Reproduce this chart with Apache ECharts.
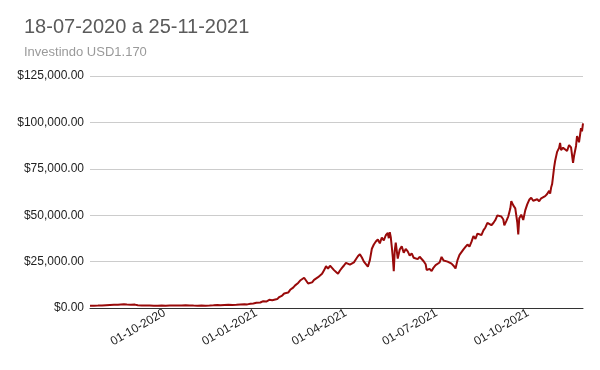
<!DOCTYPE html>
<html>
<head>
<meta charset="utf-8">
<script src="https://cdn.jsdelivr.net/npm/echarts@6/dist/echarts.min.js"></script>
<style>
  html, body { margin: 0; padding: 0; background: #fff; }
  #chart { width: 600px; height: 370px; }
</style>
</head>
<body>
<div id="chart"></div>
<script>
// ---- Data ----
const titleText = '18-07-2020 a 25-11-2021';
const subtitleText = 'Investindo USD1.170';

const dates = [
'2020-07-18','2020-07-22','2020-07-26','2020-07-30','2020-08-03','2020-08-07','2020-08-11','2020-08-15','2020-08-18','2020-08-21',
'2020-08-24','2020-08-28','2020-09-01','2020-09-04','2020-09-08','2020-09-12','2020-09-16','2020-09-20','2020-09-24','2020-09-28',
'2020-10-02','2020-10-06','2020-10-10','2020-10-14','2020-10-18','2020-10-22','2020-10-26','2020-10-30','2020-11-03','2020-11-07',
'2020-11-11','2020-11-15','2020-11-19','2020-11-23','2020-11-26','2020-11-30','2020-12-04','2020-12-08','2020-12-12','2020-12-16',
'2020-12-20','2020-12-23','2020-12-26','2020-12-29','2021-01-01','2021-01-03','2021-01-05','2021-01-08','2021-01-11','2021-01-14',
'2021-01-17','2021-01-19','2021-01-22','2021-01-24','2021-01-27','2021-01-29','2021-01-31','2021-02-02','2021-02-04','2021-02-07',
'2021-02-09','2021-02-12','2021-02-14','2021-02-16','2021-02-18','2021-02-20','2021-02-22','2021-02-24','2021-02-26','2021-02-28',
'2021-03-02','2021-03-04','2021-03-06','2021-03-08','2021-03-10','2021-03-12','2021-03-14','2021-03-16','2021-03-18','2021-03-20',
'2021-03-22','2021-03-24','2021-03-26','2021-03-28','2021-03-30','2021-04-01','2021-04-03','2021-04-05','2021-04-07','2021-04-09',
'2021-04-11','2021-04-13','2021-04-15','2021-04-17','2021-04-19','2021-04-21','2021-04-23','2021-04-25','2021-04-27','2021-04-29',
'2021-05-01','2021-05-03','2021-05-05','2021-05-07','2021-05-09','2021-05-11','2021-05-13','2021-05-14','2021-05-15','2021-05-16',
'2021-05-17','2021-05-18','2021-05-19','2021-05-20','2021-05-21','2021-05-23','2021-05-25','2021-05-27','2021-05-29','2021-05-31',
'2021-06-02','2021-06-04','2021-06-06','2021-06-08','2021-06-10','2021-06-12','2021-06-14','2021-06-16','2021-06-18','2021-06-20',
'2021-06-21','2021-06-22','2021-06-24','2021-06-26','2021-06-28','2021-06-30','2021-07-02','2021-07-04','2021-07-06','2021-07-08',
'2021-07-10','2021-07-12','2021-07-14','2021-07-16','2021-07-18','2021-07-20','2021-07-22','2021-07-24','2021-07-26','2021-07-28',
'2021-07-30','2021-08-01','2021-08-03','2021-08-05','2021-08-07','2021-08-09','2021-08-11','2021-08-13','2021-08-15','2021-08-17',
'2021-08-19','2021-08-21','2021-08-23','2021-08-25','2021-08-27','2021-08-29','2021-08-31','2021-09-02','2021-09-04','2021-09-06',
'2021-09-07','2021-09-09','2021-09-11','2021-09-13','2021-09-14','2021-09-16','2021-09-18','2021-09-20','2021-09-21','2021-09-22',
'2021-09-24','2021-09-26','2021-09-28','2021-09-30','2021-10-02','2021-10-04','2021-10-06','2021-10-08','2021-10-10','2021-10-12',
'2021-10-14','2021-10-16','2021-10-18','2021-10-20','2021-10-22','2021-10-23','2021-10-24','2021-10-25','2021-10-26','2021-10-27',
'2021-10-28','2021-10-30','2021-11-01','2021-11-02','2021-11-03','2021-11-05','2021-11-07','2021-11-09','2021-11-11','2021-11-13',
'2021-11-15','2021-11-16','2021-11-18','2021-11-19','2021-11-20','2021-11-21','2021-11-23','2021-11-24','2021-11-25'
];

const values = [
1170,1230,1290,1380,1520,1650,1780,1700,1900,2050,
1880,1760,1820,1450,1300,1380,1320,1250,1200,1290,
1240,1310,1360,1290,1330,1420,1350,1280,1220,1300,
1270,1350,1460,1620,1480,1650,1720,1680,1810,1950,
2080,1950,2250,2480,2800,3200,2950,3700,3500,4400,
4200,5100,4800,5900,6700,7800,8700,8300,9800,11000,
12200,13500,14800,15400,16300,15600,13200,14100,13800,15200,
15800,16600,16900,18400,20300,22500,21200,22800,21600,20400,
19600,18400,20200,21600,22900,24300,25200,23400,22500,24600,
26300,27900,29000,27200,25000,24300,22300,25800,31900,34200,
35800,36900,34800,38000,36400,39200,40400,37600,40900,38200,
33000,27500,19800,31000,35200,26600,31500,33200,29800,31800,
30500,28200,29400,27100,28000,26300,27600,26800,25200,23600,
20500,19600,21100,19900,21800,23100,22400,24500,27500,25600,
26300,25000,24200,23900,22800,21300,25800,28600,30100,31600,
32900,34200,33100,35600,38700,37200,40100,40900,39300,41800,
43400,45900,46800,44600,45800,47400,49900,50700,49300,47700,
44500,46800,49400,53600,57600,55300,53700,46200,39600,48400,
50300,47400,52600,55800,58300,59400,57800,57200,58600,57500,
59100,58200,60300,61400,63200,61600,64900,66800,71200,75800,
79200,84100,86300,88900,85100,86400,87200,84600,87800,86500,
78200,81900,87300,92600,93400,89300,96900,95200,99500
];

const xTickDates = ['2020-10-01','2021-01-01','2021-04-01','2021-07-01','2021-10-01'];

// ---- helpers ----
function ts(s) {
  const p = s.split('-').map(Number);
  return Date.UTC(p[0], p[1] - 1, p[2]);
}
function pad(n) { return (n < 10 ? '0' : '') + n; }
function fmtDate(t) {
  const d = new Date(t);
  return pad(d.getUTCDate()) + '-' + pad(d.getUTCMonth() + 1) + '-' + d.getUTCFullYear();
}
function fmtMoney(v) {
  return '$' + v.toLocaleString('en-US', { minimumFractionDigits: 2, maximumFractionDigits: 2 });
}

const seriesData = dates.map((d, i) => [ts(d), values[i]]);

const chart = echarts.init(document.getElementById('chart'), null, { renderer: 'canvas' });
chart.setOption({
  animation: false,
  backgroundColor: '#ffffff',
  textStyle: { fontFamily: 'Liberation Sans, Arial, sans-serif' },
  title: {
    text: titleText,
    subtext: subtitleText,
    left: 19,
    top: 12,
    itemGap: 9,
    textStyle: { fontSize: 20, fontWeight: 'normal', color: '#5b5b5b', fontFamily: 'Liberation Sans, Arial, sans-serif' },
    subtextStyle: { fontSize: 13, color: '#9a9a9a', fontFamily: 'Liberation Sans, Arial, sans-serif' }
  },
  grid: { left: 90, right: 17, top: 76, bottom: 62, containLabel: false },
  xAxis: {
    type: 'value',
    min: ts(dates[0]),
    max: ts(dates[dates.length - 1]),
    axisLine: { show: true, onZero: false, lineStyle: { color: '#333333', width: 1 } },
    axisTick: { show: false },
    splitLine: { show: false },
    axisLabel: {
      customValues: xTickDates.map(ts),
      rotate: 30,
      margin: 4,
      padding: [20, 0, 0, 0],
      fontSize: 12,
      color: '#222222',
      formatter: function (v) { return fmtDate(v); }
    }
  },
  yAxis: {
    type: 'value',
    min: 0,
    max: 125000,
    interval: 25000,
    axisLine: { show: false },
    axisTick: { show: false },
    splitLine: { show: true, lineStyle: { color: '#cccccc', width: 1 } },
    axisLabel: {
      margin: 6,
      fontSize: 12,
      color: '#222222',
      formatter: function (v) { return fmtMoney(v); }
    }
  },
  series: [{
    type: 'line',
    data: seriesData,
    showSymbol: false,
    symbol: 'none',
    lineStyle: { color: '#990a0a', width: 2 },
    itemStyle: { color: '#990a0a' }
  }]
});
</script>
</body>
</html>
